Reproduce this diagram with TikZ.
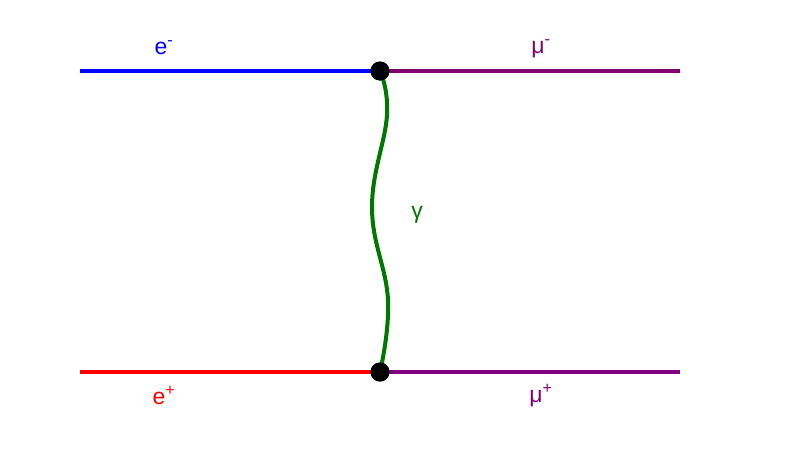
\documentclass[tikz,border=0pt]{standalone}
\usepackage{fontspec}
\setmainfont{Liberation Sans}
\definecolor{eblue}{RGB}{0,0,255}
\definecolor{ered}{RGB}{255,0,0}
\definecolor{mutop}{RGB}{128,0,112}
\definecolor{mubot}{RGB}{128,0,128}
\definecolor{phgreen}{RGB}{0,120,0}
\begin{document}
\begin{tikzpicture}[x=1pt,y=-1pt,
  fermion/.style={line width=4.5pt},
  photon/.style={line width=4pt,phgreen},
  vertex/.style={circle,fill=black,inner sep=0pt,minimum size=19pt},
  lbl/.style={font=\fontsize{23}{25}\selectfont,inner sep=0pt}]
\useasboundingbox (0,0) rectangle (788,448);
\coordinate (a) at (80,71);
\coordinate (b) at (680,71);
\coordinate (c) at (80,372);
\coordinate (d) at (680,372);
\coordinate (w1) at (387,115);
\coordinate (w2) at (372,208);
\coordinate (w3) at (388,300);
\node[vertex] (v1) at (380,71) {};
\node[vertex] (v2) at (380,372) {};
\draw[fermion,eblue] (a) -- (v1.center);
\draw[fermion,mutop] (v1.center) -- (b);
\draw[fermion,ered] (c) -- (v2.center);
\draw[fermion,mubot] (v2.center) -- (d);
\draw[photon] plot[smooth,tension=0.7] coordinates {(v1.center) (w1) (w2) (w3) (v2.center)};
\node[vertex] at (v1) {};
\node[vertex] at (v2) {};
\node[lbl,eblue] (le) at (164,48) {e\textsuperscript{-}};
\node[lbl,mutop] (lm) at (541,49) {μ\textsuperscript{-}};
\node[lbl,ered] (lp) at (164,395) {e\textsuperscript{+}};
\node[lbl,mubot] (lmp) at (541,396) {μ\textsuperscript{+}};
\node[lbl,phgreen] (lg) at (417,215) {γ};
\end{tikzpicture}
\end{document}
